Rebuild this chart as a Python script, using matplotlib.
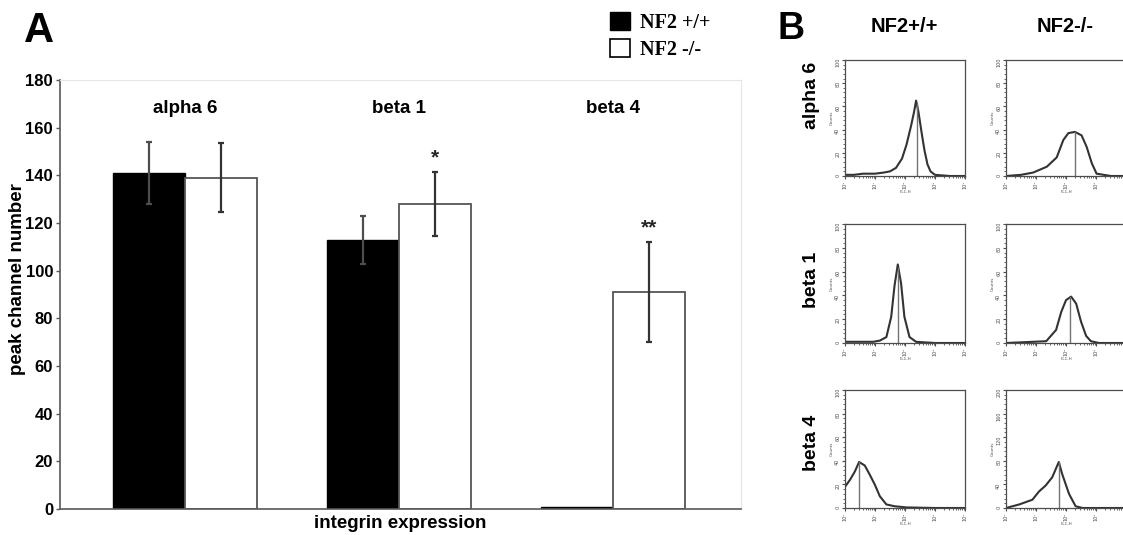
import matplotlib
matplotlib.use("Agg")
import matplotlib.pyplot as plt
from matplotlib.patches import Patch
from matplotlib.ticker import LogLocator, MultipleLocator, NullFormatter, FixedFormatter, FixedLocator
import numpy as np

# ---- panel A data (peak channel number) ----
groups = ['alpha 6', 'beta 1', 'beta 4']
wt_vals = [141, 113, 1]
wt_err = [13, 10, 0]
ko_vals = [139, 128, 91]
ko_err = [14.5, 13.3, 21]
ko_marks = ['', '*', '**']

# ---- panel B data: flow histograms (log10 fluorescence, % of axis height) ----
row_names = ['alpha 6', 'beta 1', 'beta 4']
col_names = ['NF2+/+', 'NF2-/-']

a6_wt_x = [0.0, 0.3, 0.6, 1.0, 1.3, 1.5, 1.7, 1.9, 2.05, 2.2, 2.3, 2.37, 2.45, 2.55, 2.65, 2.75, 2.85, 3.0, 3.5, 4.0]
a6_wt_y = [1, 1, 2, 2, 3, 4, 7, 15, 27, 43, 55, 65, 55, 38, 22, 10, 4, 1, 0, 0]
a6_ko_x = [0.0, 0.5, 0.91, 1.36, 1.69, 1.91, 2.08, 2.3, 2.52, 2.69, 2.86, 3.02, 3.5, 4.0]
a6_ko_y = [0, 1, 3, 8, 16, 31, 37, 38, 35, 25, 11, 2, 0, 0]
b1_wt_x = [0.0, 0.5, 0.94, 1.16, 1.38, 1.54, 1.65, 1.76, 1.87, 1.98, 2.15, 2.37, 3.0, 4.0]
b1_wt_y = [1, 1, 1, 2, 5, 22, 48, 66, 50, 22, 5, 1, 0, 0]
b1_ko_x = [0.0, 0.9, 1.34, 1.67, 1.84, 2.0, 2.17, 2.34, 2.5, 2.67, 2.83, 3.1, 4.0]
b1_ko_y = [0, 1, 1.5, 11, 26, 36, 39, 33, 18, 6, 1.5, 0, 0]
b4_wt_x = [0.0, 0.17, 0.33, 0.47, 0.66, 0.83, 0.99, 1.16, 1.38, 1.65, 2.04, 3.0, 4.0]
b4_wt_y = [18, 24, 31, 39, 36, 28, 20, 10, 3, 1.5, 0.5, 0, 0]
b4_ko_x = [0.0, 0.44, 0.88, 1.1, 1.32, 1.54, 1.76, 1.87, 2.1, 2.32, 2.55, 3.0, 4.0]
b4_ko_y = [0, 3, 7, 14, 19, 26, 39, 29, 12, 1.5, 0, 0, 0]

hist_x = [[a6_wt_x, a6_ko_x], [b1_wt_x, b1_ko_x], [b4_wt_x, b4_ko_x]]
hist_y = [[a6_wt_y, a6_ko_y], [b1_wt_y, b1_ko_y], [b4_wt_y, b4_ko_y]]
peak_pos = [[2.39, 2.3], [1.78, 2.14], [0.47, 1.76]]
y_tops = [[100, 100], [100, 100], [100, 200]]

sans = 'Liberation Sans'
W, H = 1123, 535
fig = plt.figure(figsize=(W / 100, H / 100), dpi=100)


def px_axes(left, top, right, bottom):
    return fig.add_axes([left / W, 1 - bottom / H, (right - left) / W, (bottom - top) / H])


# ---------------- panel A ----------------
ax = px_axes(60, 80, 741, 509)
x = np.arange(len(groups))
bw = 0.336
ax.bar(x - bw / 2, wt_vals, bw, color='black', edgecolor='black', linewidth=1)
ax.bar(x + bw / 2, ko_vals, bw, color='white', edgecolor='#555555', linewidth=1.3)
for xi, v, e in zip(x - bw / 2, wt_vals, wt_err):
    if e > 0:
        ax.errorbar(xi, v, yerr=e, color='0.3', capsize=2.5, elinewidth=1.6, capthick=1.6)
for xi, v, e, m in zip(x + bw / 2, ko_vals, ko_err, ko_marks):
    ax.errorbar(xi, v, yerr=e, color='0.2', capsize=2.5, elinewidth=1.6, capthick=1.6)
    if m:
        ax.text(xi, v + e + 2, m, ha='center', va='bottom', fontsize=15,
                fontweight='bold', family=sans, color='0.15')
for xi, g in zip(x, groups):
    ax.text(xi, 168, g, ha='center', va='center', fontsize=13.5, fontweight='bold', family=sans)

ax.set_xlim(-0.584, 2.598)
ax.set_ylim(0, 180)
ax.set_yticks(range(0, 181, 20))
ax.set_xticks([])
ax.tick_params(axis='y', direction='out', length=3, width=1, color='0.35', pad=2)
for lab in ax.get_yticklabels():
    lab.set_fontweight('bold')
    lab.set_family(sans)
    lab.set_fontsize(12)
ax.set_ylabel('peak channel number', fontsize=13.5, fontweight='bold', family=sans, labelpad=1)
ax.yaxis.set_label_coords(-0.05, 0.535)
ax.set_xlabel('integrin expression', fontsize=13.5, fontweight='bold', family=sans, labelpad=4)
ax.spines['left'].set_color('0.35')
ax.spines['bottom'].set_color('0.35')
ax.spines['left'].set_linewidth(1.2)
ax.spines['bottom'].set_linewidth(1.2)
ax.spines['top'].set_color('0.9')
ax.spines['right'].set_color('0.9')

fig.text(24 / W, 1 - 31 / H, 'A', fontsize=30, fontweight='bold', family=sans, va='center')
fig.legend(handles=[Patch(facecolor='black', edgecolor='black'),
                    Patch(facecolor='white', edgecolor='black', linewidth=1.2)],
           labels=['NF2 +/+', 'NF2 -/-'], loc='upper left', bbox_to_anchor=(610 / W, 1 - 12 / H),
           frameon=False, borderpad=0, borderaxespad=0,
           handlelength=1.0, handleheight=1.0, handletextpad=0.5, labelspacing=0.3,
           prop={'family': 'Liberation Serif', 'weight': 'bold', 'size': 14.5})

# ---------------- panel B ----------------
fig.text(778 / W, 1 - 29 / H, 'B', fontsize=27, fontweight='bold', family=sans, va='center')
col_left = [845, 1006]
row_top = [60, 224, 390]
row_bot = [176, 343, 508]
label_y = [95, 280, 443]
for j, name in enumerate(col_names):
    fig.text((col_left[j] + 59) / W, 1 - 27 / H, name, ha='center', va='center',
             fontsize=14.5, fontweight='bold', family=sans)
for i, rname in enumerate(row_names):
    fig.text(811 / W, 1 - label_y[i] / H, rname, rotation=90, ha='center', va='center',
             fontsize=14, fontweight='bold', family=sans)
    for j in range(2):
        hx = px_axes(col_left[j], row_top[i], col_left[j] + 120, row_bot[i])
        ytop = y_tops[i][j]
        xs = 10 ** np.array(hist_x[i][j])
        ys = np.array(hist_y[i][j]) * ytop / 100
        hx.plot(xs, ys, color='0.2', lw=1.5)
        pk = 10 ** peak_pos[i][j]
        hx.plot([pk, pk], [0, np.interp(peak_pos[i][j], hist_x[i][j], hist_y[i][j]) * ytop / 100],
                color='0.45', lw=1)
        hx.set_xscale('log')
        hx.set_xlim(1, 1e4)
        hx.set_ylim(0, ytop)
        # last column is cut by the figure edge, so its 10^4 label is left off
        n_lab = 5 if j == 0 else 4
        hx.xaxis.set_major_locator(FixedLocator([1, 10, 100, 1000, 10000]))
        hx.xaxis.set_major_formatter(FixedFormatter(['10⁰', '10¹', '10²', '10³', '10⁴'][:n_lab] + [''] * (5 - n_lab)))
        hx.xaxis.set_minor_locator(LogLocator(base=10, subs=np.arange(2, 10), numticks=20))
        hx.xaxis.set_minor_formatter(NullFormatter())
        hx.yaxis.set_major_locator(MultipleLocator(ytop / 5))
        hx.yaxis.set_minor_locator(MultipleLocator(ytop / 25))
        hx.tick_params(which='major', direction='out', length=2.5, width=0.8, labelsize=3.5,
                       pad=1, color='0.3', labelcolor='0.3')
        hx.tick_params(which='minor', direction='out', length=1.2, width=0.6, color='0.3')
        for lab in hx.get_xticklabels() + hx.get_yticklabels():
            lab.set_rotation(90)
        hx.set_ylabel('Counts', fontsize=3, labelpad=1, color='0.3')
        hx.set_xlabel('FL1-H', fontsize=3, labelpad=0.5, color='0.3')
        for s in hx.spines.values():
            s.set_color('0.3')
            s.set_linewidth(0.9)

fig.savefig('out.png', dpi=100)
